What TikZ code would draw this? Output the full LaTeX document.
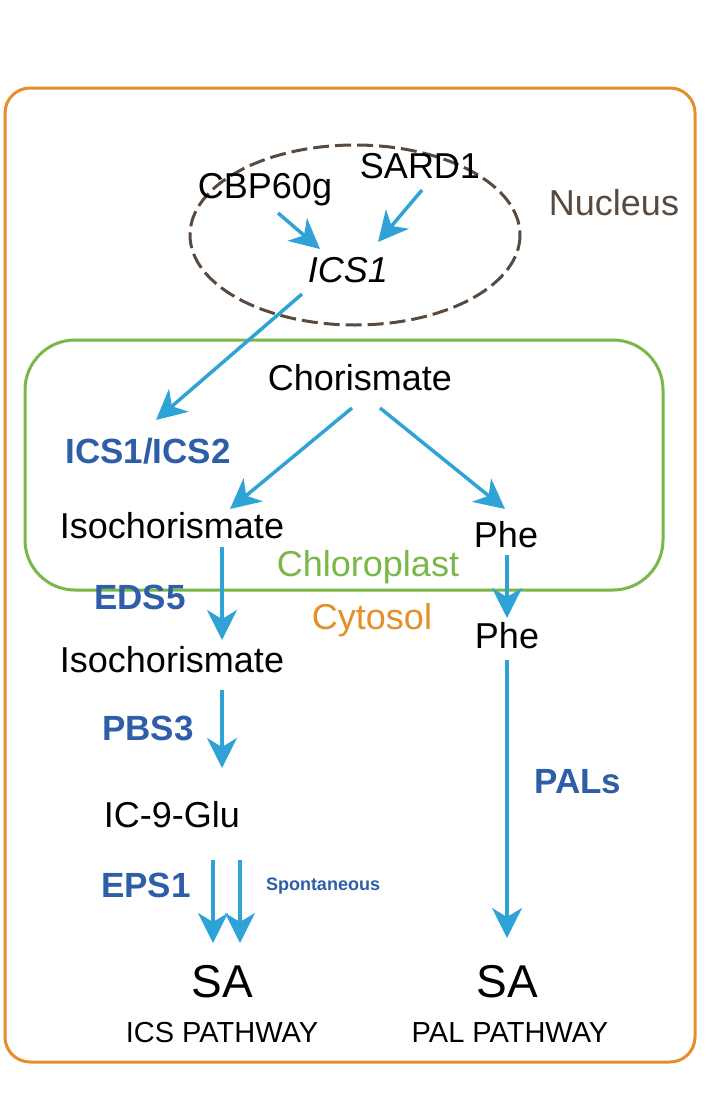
\documentclass[tikz,border=0pt]{standalone}
\usepackage{fontspec}
\setmainfont{Liberation Sans}
\usetikzlibrary{arrows.meta,shapes.geometric}
\definecolor{org}{HTML}{E58E2A}
\definecolor{grn}{HTML}{7AB648}
\definecolor{brn}{HTML}{594A40}
\definecolor{arr}{HTML}{2FA3D6}
\definecolor{lbl}{HTML}{2E5EA8}
\begin{document}
\begin{tikzpicture}[x=1pt,y=-1pt,
  t/.style={font=\fontsize{36}{38}\selectfont,inner sep=1pt},
  e/.style={font=\fontsize{35}{37}\selectfont\bfseries,text=lbl,inner sep=1pt},
  a/.style={draw=arr,line width=3.5pt,-{Stealth[length=30pt,width=30pt,inset=9pt]}}]
\useasboundingbox (0,0) rectangle (715,1119);
\draw[org,line width=3pt,rounded corners=25pt] (5,88) rectangle (695,1062);
\draw[brn,line width=3pt,dash pattern=on 16pt off 6pt] (355,235) ellipse [x radius=165,y radius=90];
\draw[grn,line width=3pt,rounded corners=50pt] (25,340) rectangle (663,590);
\node[t] (cbp) at (265,190) {CBP60g};
\node[t] (sard) at (420,166) {SARD1};
\node[t,font=\fontsize{36}{38}\selectfont\itshape] (ics) at (348,270) {ICS1};
\node[t,text=brn] (nuc) at (614,203) {Nucleus};
\node[t] (cho) at (360,378) {Chorismate};
\node[e] (i12) at (148,451) {ICS1/ICS2};
\node[t] (iso1) at (172,526) {Isochorismate};
\node[t] (phe1) at (506,535) {Phe};
\node[t,text=grn] (chl) at (368,567) {Chloroplast};
\node[t,text=org] (cyt) at (372,620) {Cytosol};
\node[e] (eds) at (140,597) {EDS5};
\node[t] (iso2) at (172,660) {Isochorismate};
\node[t] (phe2) at (507,636) {Phe};
\node[e] (pbs) at (148,728) {PBS3};
\node[t] (glu) at (172,815) {IC-9-Glu};
\node[e] (eps) at (146,885) {EPS1};
\node[font=\fontsize{18}{20}\selectfont\bfseries,text=lbl] (spo) at (323,886) {Spontaneous};
\node[t,font=\fontsize{46}{48}\selectfont] (sa1) at (222,982) {SA};
\node[t,font=\fontsize{46}{48}\selectfont] (sa2) at (507,982) {SA};
\node[e] (pal) at (578,782) {PALs};
\node[t,font=\fontsize{29}{31}\selectfont] (icsp) at (222,1033) {ICS PATHWAY};
\node[t,font=\fontsize{29}{31}\selectfont] (palp) at (510,1033) {PAL PATHWAY};
\coordinate (c1) at (278,213); \coordinate (c1e) at (320,249);
\coordinate (s1) at (422,190); \coordinate (s1e) at (378,242);
\coordinate (i1) at (302,294); \coordinate (i1e) at (156,420);
\coordinate (h1) at (352,408); \coordinate (h1e) at (230,509);
\coordinate (h2) at (380,408); \coordinate (h2e) at (505,509);
\coordinate (d1) at (222,547); \coordinate (d1e) at (222,640);
\coordinate (p1) at (507,555); \coordinate (p1e) at (507,618);
\coordinate (b1) at (222,690); \coordinate (b1e) at (222,768);
\coordinate (g1) at (213,860); \coordinate (g1e) at (213,943);
\coordinate (g2) at (240,860); \coordinate (g2e) at (240,943);
\coordinate (q1) at (507,660); \coordinate (q1e) at (507,938);
\foreach \s/\e in {c1/c1e,s1/s1e,i1/i1e,h1/h1e,h2/h2e,d1/d1e,p1/p1e,b1/b1e,g1/g1e,g2/g2e,q1/q1e}
  \draw[a] (\s) -- (\e);
\end{tikzpicture}
\end{document}
